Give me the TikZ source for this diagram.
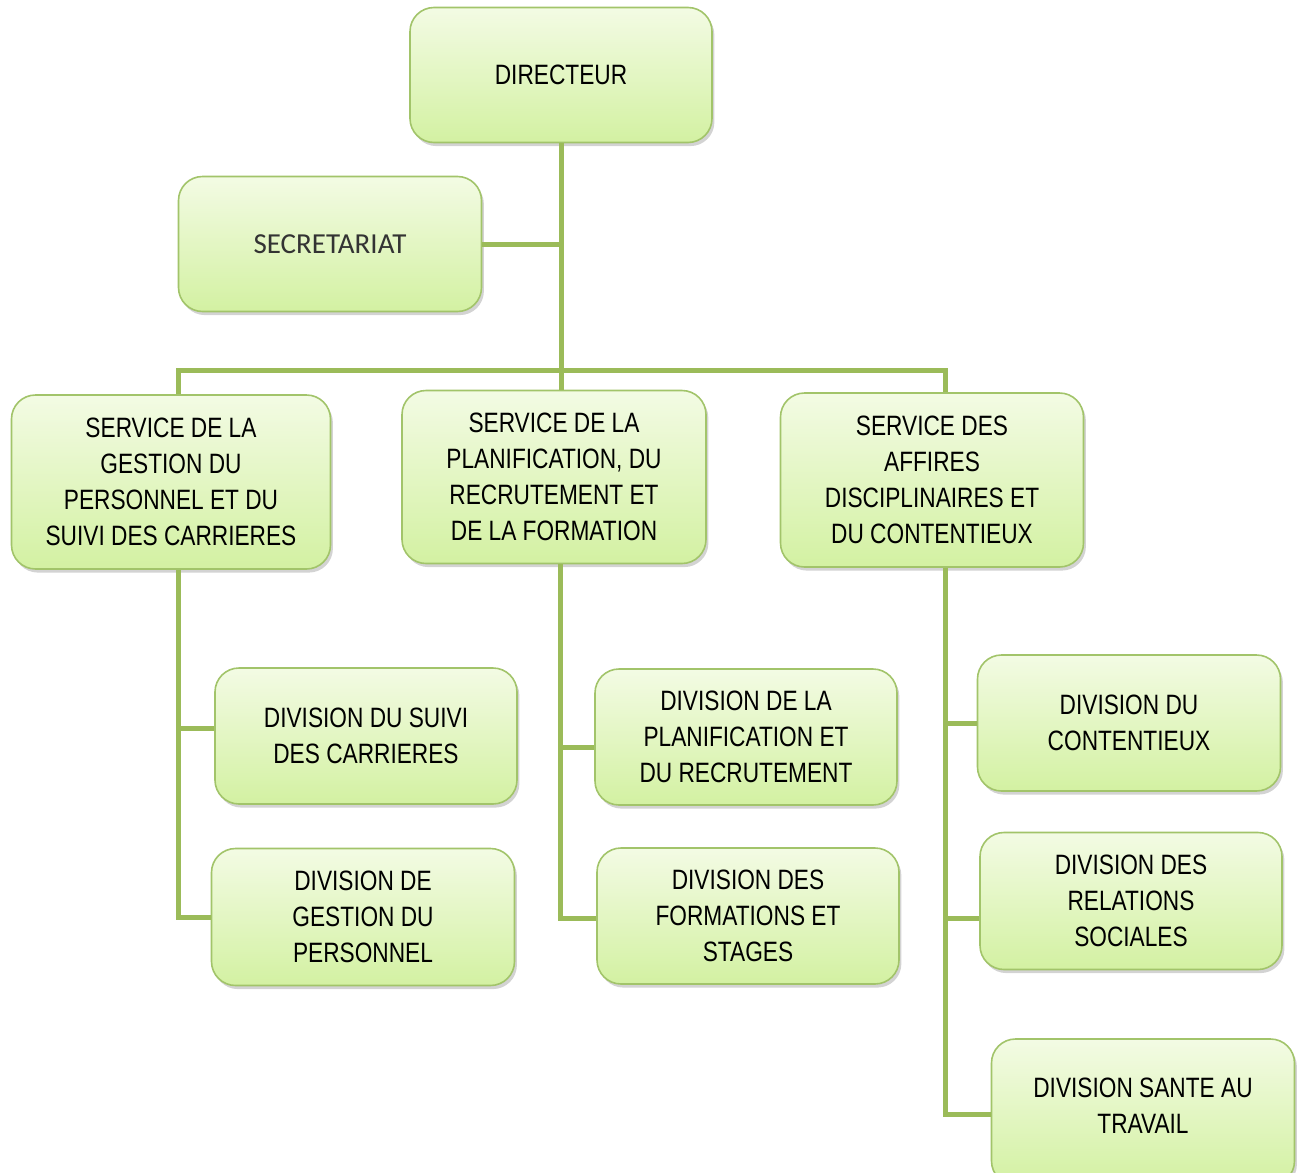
\documentclass[tikz,border=0pt]{standalone}
\usepackage{fontspec}
\setmainfont[FakeStretch=0.81]{Liberation Sans}
\newfontfamily\secfont{Carlito}
\usetikzlibrary{shadows}
\definecolor{lineg}{HTML}{9BBB59}
\definecolor{bordg}{HTML}{A2C46A}
\definecolor{filltop}{HTML}{F3FBE4}
\definecolor{fillbot}{HTML}{D3F1A2}
\definecolor{sectxt}{HTML}{333333}
\tikzset{
  boxtext/.style={align=center, inner sep=0pt, font=\fontsize{14}{18}\selectfont},
  box/.style 2 args={draw=bordg, line width=0.8pt, rounded corners=12pt,
    top color=filltop, bottom color=fillbot,
    minimum width=#1*0.5pt, minimum height=#2*0.5pt,
    boxtext,
    drop shadow={opacity=0.35, shadow xshift=1.2pt, shadow yshift=-1.8pt}},
  conn/.style={draw=lineg, line width=2.5pt}
}
\begin{document}
\begin{tikzpicture}[x=0.5pt, y=-0.5pt]
\useasboundingbox (0,0) rectangle (1302,1173);
\coordinate (busL) at (178,370);
\coordinate (busR) at (945,370);
\coordinate (l2) at (560,0);
% boxes
\node[box={302}{135}] (dir) at (561,75) {DIRECTEUR};
\node[box={303}{135}, font=\secfont\fontsize{14.5}{18}\selectfont, text=sectxt] (sec) at (330,244) {SECRETARIAT};
\node[box={319}{174}] (s1) at (171,482) {SERVICE DE LA\\GESTION DU\\PERSONNEL ET DU\\SUIVI DES CARRIERES};
\node[box={304}{173}] (s2) at (554,477) {SERVICE DE LA\\PLANIFICATION, DU\\RECRUTEMENT ET\\DE LA FORMATION};
\node[box={303}{174}] (s3) at (932,480) {SERVICE DES\\AFFIRES\\DISCIPLINAIRES ET\\DU CONTENTIEUX};
\node[box={302}{136}] (d11) at (366,736) {DIVISION DU SUIVI\\DES CARRIERES};
\node[box={303}{137}] (d12) at (363,917) {DIVISION DE\\GESTION DU\\PERSONNEL};
\node[box={302}{136}] (d21) at (746,737) {DIVISION DE LA\\PLANIFICATION ET\\DU RECRUTEMENT};
\node[box={302}{136}] (d22) at (748,916) {DIVISION DES\\FORMATIONS ET\\STAGES};
\node[box={303}{136}] (d31) at (1129,723) {DIVISION DU\\CONTENTIEUX};
\node[box={302}{137}] (d32) at (1131,901) {DIVISION DES\\RELATIONS\\SOCIALES};
\node[box={303}{146}] (d33) at (1143,1112) {};
\node[boxtext] (d33t) at (1143,1106) {DIVISION SANTE AU\\TRAVAIL};
% connectors
\draw[conn] (dir.south) -- (dir.south |- s2.north);
\draw[conn] (sec.east) -- (sec.east -| dir.south);
\draw[conn] (s1.north -| busL) -- (busL) -- (busR) -- (s3.north -| busR);
\draw[conn] (s1.south -| busL) -- (busL |- d12.west) -- (d12.west);
\draw[conn] ([yshift=4pt]busL |- d11.west) -- ([yshift=4pt]d11.west);
\draw[conn] (s2.south -| l2) -- ([yshift=-1pt]l2 |- d22.west) -- ([yshift=-1pt]d22.west);
\draw[conn] ([yshift=-5pt]l2 |- d21.west) -- ([yshift=-5pt]d21.west);
\draw[conn] (s3.south -| busR) -- ([yshift=-1pt]busR |- d33.west) -- ([yshift=-1pt]d33.west);
\draw[conn] (busR |- d31.west) -- (d31.west);
\draw[conn] ([yshift=-8.5pt]busR |- d32.west) -- ([yshift=-8.5pt]d32.west);
\end{tikzpicture}
\end{document}
